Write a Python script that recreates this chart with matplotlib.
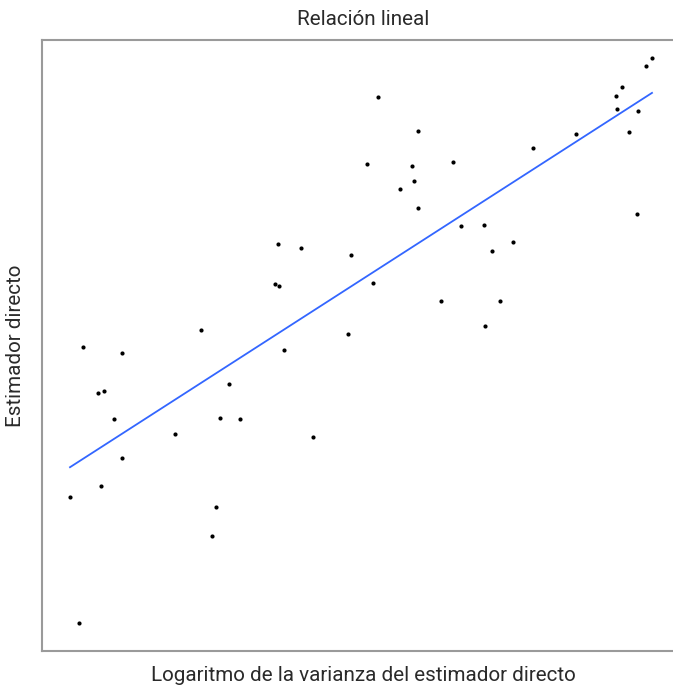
import numpy as np
import matplotlib
matplotlib.use("Agg")
import matplotlib.pyplot as plt

# valores (escala libre, sin marcas de eje)
log_var = [70, 79, 83, 98, 104, 101, 114, 122, 122, 175,
           201, 212, 216, 220, 229, 240, 275, 278, 279, 284,
           301, 313, 348, 351, 367, 373, 378, 400, 412, 414,
           418, 418, 441, 453, 461, 484, 485, 492, 500, 513,
           533, 576, 616, 617, 622, 629, 637, 638, 646, 652]
est_dir = [497, 623, 347, 393, 391, 486, 419, 353, 458, 434,
           330, 536, 507, 418, 384, 419, 284, 244, 286, 350,
           248, 437, 334, 255, 164, 283, 97, 189, 166, 181,
           131, 208, 301, 162, 226, 225, 326, 251, 301, 242,
           148, 134, 96, 109, 87, 132, 214, 111, 66, 58]

x = np.array(log_var, dtype=float)
y = 700 - np.array(est_dir, dtype=float)

plt.rcParams['font.family'] = ['Roboto', 'DejaVu Sans']

fig = plt.figure(figsize=(6.73, 6.91), dpi=100)
ax = fig.add_axes([42 / 673, 40 / 691, (684 - 42) / 673, 611 / 691])

ax.scatter(x, y, s=9, color='black', zorder=3, linewidths=0)

b, a = np.polyfit(x, y, 1)
xs = np.array([x.min(), x.max()])
ax.plot(xs, a + b * xs, color='#3366FF', lw=1.3, zorder=2)

ax.set_xlim(42, 684)
ax.set_ylim(700 - 651, 700 - 40)

for s in ax.spines.values():
    s.set_color('#9a9a9a')
    s.set_linewidth(1.5)
ax.spines['right'].set_visible(False)
ax.set_xticks([])
ax.set_yticks([])

txt = dict(fontsize=14.9, color='#2a2a2a')
ax.set_title('Relación lineal', pad=11, **txt)
ax.set_xlabel('Logaritmo de la varianza del estimador directo', labelpad=11, **txt)
ax.set_ylabel('Estimador directo', labelpad=12, **txt)

fig.savefig('out.png', dpi=100)
